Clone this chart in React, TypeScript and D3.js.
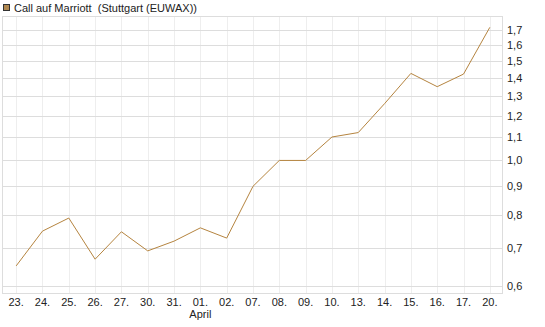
import React, { useRef, useEffect } from "react";
import * as d3 from "d3";

const title = "Call auf Marriott  (Stuttgart (EUWAX))";
const days = ["23.", "24.", "25.", "26.", "27.", "30.", "31.", "01.", "02.", "07.", "08.", "09.", "10.", "13.", "14.", "15.", "16.", "17.", "20."];
const prices = [0.651, 0.75, 0.791, 0.669, 0.748, 0.692, 0.72, 0.76, 0.729, 0.9, 1.0, 1.0, 1.1, 1.12, 1.26, 1.425, 1.35, 1.421, 1.719];
const yTicks = [0.6, 0.7, 0.8, 0.9, 1.0, 1.1, 1.2, 1.3, 1.4, 1.5, 1.6, 1.7];
const monthLabel = { day: "01.", text: "April" };

const W = 545, H = 327;
const plot = { left: 3, right: 503, top: 16, bottom: 293 };

const Chart: React.FC = () => {
  const ref = useRef<SVGSVGElement>(null);

  useEffect(() => {
    const svg = d3.select(ref.current);
    svg.selectAll("*").remove();

    const x = d3.scalePoint<string>().domain(days).range([plot.left, plot.right]).padding(0.5);
    const y = d3.scaleLog().domain([0.583, 1.8]).range([plot.bottom, plot.top]);

    // vertical grid
    svg.append("g")
      .selectAll("line")
      .data(days)
      .join("line")
      .attr("x1", (d) => Math.round(x(d)!) + 0.5)
      .attr("x2", (d) => Math.round(x(d)!) + 0.5)
      .attr("y1", plot.top)
      .attr("y2", plot.bottom)
      .attr("stroke", "#eeeeee");

    // horizontal grid
    svg.append("g")
      .selectAll("line")
      .data(yTicks)
      .join("line")
      .attr("x1", plot.left)
      .attr("x2", plot.right)
      .attr("y1", (d) => Math.round(y(d)) + 0.5)
      .attr("y2", (d) => Math.round(y(d)) + 0.5)
      .attr("stroke", "#dddddd");

    // frame
    svg.append("rect")
      .attr("x", plot.left - 0.5)
      .attr("y", plot.top + 0.5)
      .attr("width", plot.right - plot.left)
      .attr("height", plot.bottom - plot.top)
      .attr("fill", "none")
      .attr("stroke", "#dddddd");

    // line
    const line = d3.line<number>()
      .x((_, i) => x(days[i])!)
      .y((d) => y(d));
    svg.append("path")
      .datum(prices)
      .attr("fill", "none")
      .attr("stroke", "#b5843f")
      .attr("stroke-width", 1)
      .attr("d", line);

    const font = "'Liberation Sans', Arial, sans-serif";

    // y labels
    svg.append("g")
      .selectAll("text")
      .data(yTicks)
      .join("text")
      .attr("x", 507)
      .attr("y", (d) => y(d) + 4)
      .style("font-family", font)
      .style("font-size", "11px")
      .attr("fill", "#222")
      .text((d) => d3.format(".1f")(d).replace(".", ","));

    // x labels
    svg.append("g")
      .selectAll("text")
      .data(days)
      .join("text")
      .attr("x", (d) => x(d)!)
      .attr("y", 306)
      .attr("text-anchor", "middle")
      .style("font-family", font)
      .style("font-size", "11px")
      .attr("fill", "#222")
      .text((d) => d);

    svg.append("text")
      .attr("x", x(monthLabel.day)!)
      .attr("y", 318)
      .attr("text-anchor", "middle")
      .style("font-family", font)
      .style("font-size", "11px")
      .attr("fill", "#222")
      .text(monthLabel.text);

    // legend
    svg.append("rect")
      .attr("x", 3.5)
      .attr("y", 4.5)
      .attr("width", 6)
      .attr("height", 6)
      .attr("fill", "#b08850")
      .attr("stroke", "#333");
    svg.append("text")
      .attr("x", 14)
      .attr("y", 12)
      .style("font-family", font)
      .style("font-size", "11px")
      .attr("fill", "#222")
      .style("white-space", "pre")
      .text(title);
  }, []);

  return <svg ref={ref} width={W} height={H} style={{ display: "block" }} />;
};

export default function App() {
  return (
    <div style={{ position: "absolute", left: 0, top: 0 }}>
      <Chart />
    </div>
  );
}
